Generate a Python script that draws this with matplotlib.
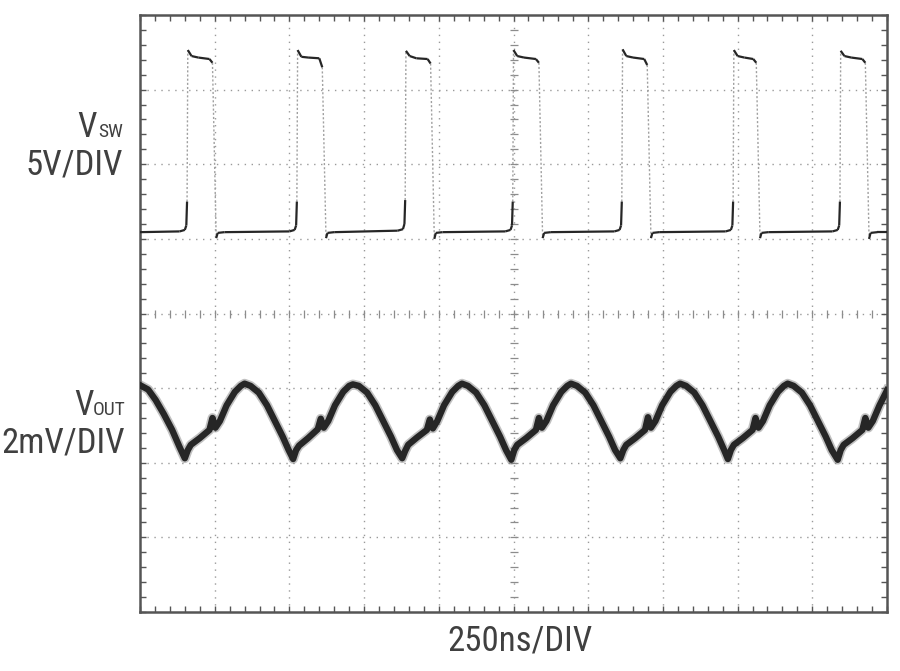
import numpy as np
import matplotlib
matplotlib.use("Agg")
import matplotlib.pyplot as plt
from matplotlib import font_manager
from matplotlib.collections import LineCollection

# screen is 10 x 8 divisions, time 250ns/div
# values below are in divisions, read off the scope shot

# switch node (5V/div)
vsw_x = [0.00,
         0.53, 0.60, 0.62, 0.63, 0.64, 0.69, 0.78, 0.93, 0.97, 1.02, 1.04, 1.13,
         2.00, 2.07, 2.09, 2.10, 2.11, 2.16, 2.25, 2.40, 2.44, 2.49, 2.51, 2.60,
         3.45, 3.52, 3.54, 3.55, 3.56, 3.61, 3.70, 3.85, 3.89, 3.94, 3.96, 4.05,
         4.89, 4.96, 4.98, 4.99, 5.00, 5.05, 5.14, 5.30, 5.34, 5.39, 5.41, 5.50,
         6.35, 6.42, 6.44, 6.45, 6.46, 6.51, 6.60, 6.75, 6.79, 6.84, 6.86, 6.95,
         7.84, 7.91, 7.93, 7.94, 7.95, 8.00, 8.09, 8.21, 8.25, 8.30, 8.32, 8.41,
         9.27, 9.34, 9.36, 9.37, 9.38, 9.43, 9.52, 9.67, 9.71, 9.76, 9.78, 9.87,
         10.00]
vsw_y = [5.09,
         5.10, 5.12, 5.18, 5.50, 7.53, 7.45, 7.43, 7.41, 7.36, 5.01, 5.08, 5.09,
         5.10, 5.12, 5.18, 5.50, 7.53, 7.44, 7.43, 7.42, 7.30, 5.01, 5.08, 5.09,
         5.11, 5.13, 5.20, 5.52, 7.52, 7.45, 7.42, 7.41, 7.35, 5.00, 5.08, 5.09,
         5.10, 5.12, 5.18, 5.50, 7.53, 7.45, 7.43, 7.41, 7.36, 5.01, 5.08, 5.09,
         5.10, 5.12, 5.18, 5.50, 7.54, 7.45, 7.43, 7.41, 7.33, 5.01, 5.08, 5.09,
         5.10, 5.12, 5.18, 5.50, 7.53, 7.45, 7.43, 7.41, 7.36, 5.01, 5.08, 5.09,
         5.10, 5.12, 5.18, 5.50, 7.52, 7.45, 7.43, 7.41, 7.36, 5.00, 5.08, 5.09,
         5.09]

# output ripple (2mV/div)
vout_x = [0.00, 0.11, 0.21, 0.32, 0.43, 0.53,
          0.60, 0.64, 0.68, 0.80, 0.93, 0.97, 1.01, 1.07, 1.16, 1.27, 1.35, 1.40, 1.48, 1.59, 1.70, 1.80, 1.91, 1.99,
          2.05, 2.09, 2.13, 2.25, 2.38, 2.42, 2.46, 2.52, 2.61, 2.72, 2.80, 2.85, 2.93, 3.04, 3.15, 3.25, 3.36, 3.44,
          3.51, 3.55, 3.59, 3.71, 3.84, 3.88, 3.92, 3.98, 4.07, 4.18, 4.26, 4.31, 4.39, 4.50, 4.61, 4.71, 4.82, 4.90,
          4.97, 5.01, 5.05, 5.17, 5.30, 5.34, 5.38, 5.44, 5.53, 5.64, 5.72, 5.77, 5.85, 5.96, 6.07, 6.17, 6.28, 6.36,
          6.43, 6.47, 6.51, 6.63, 6.76, 6.80, 6.84, 6.90, 6.99, 7.10, 7.18, 7.23, 7.31, 7.42, 7.53, 7.63, 7.74, 7.82,
          7.87, 7.91, 7.95, 8.07, 8.20, 8.24, 8.28, 8.34, 8.43, 8.54, 8.62, 8.67, 8.75, 8.86, 8.97, 9.07, 9.18, 9.26,
          9.34, 9.38, 9.42, 9.54, 9.67, 9.71, 9.75, 9.81, 9.90, 10.00]
vout_y = [3.04, 2.98, 2.84, 2.65, 2.44, 2.21,
          2.06, 2.17, 2.24, 2.33, 2.44, 2.60, 2.47, 2.56, 2.77, 2.95, 3.03, 3.06, 3.03, 2.94, 2.77, 2.57, 2.35, 2.17,
          2.05, 2.17, 2.23, 2.33, 2.45, 2.59, 2.47, 2.56, 2.77, 2.95, 3.03, 3.05, 3.03, 2.94, 2.77, 2.57, 2.35, 2.17,
          2.06, 2.16, 2.24, 2.34, 2.44, 2.58, 2.46, 2.56, 2.77, 2.95, 3.03, 3.06, 3.03, 2.94, 2.77, 2.57, 2.35, 2.17,
          2.04, 2.17, 2.24, 2.33, 2.44, 2.60, 2.47, 2.56, 2.77, 2.95, 3.03, 3.06, 3.03, 2.94, 2.77, 2.57, 2.35, 2.17,
          2.06, 2.17, 2.24, 2.33, 2.44, 2.61, 2.47, 2.56, 2.77, 2.95, 3.03, 3.06, 3.03, 2.94, 2.77, 2.57, 2.35, 2.17,
          2.05, 2.17, 2.24, 2.33, 2.44, 2.60, 2.47, 2.56, 2.77, 2.95, 3.03, 3.06, 3.03, 2.94, 2.77, 2.57, 2.35, 2.17,
          2.04, 2.17, 2.24, 2.33, 2.44, 2.60, 2.47, 2.56, 2.77, 2.97]

ch1_name, ch1_sub, ch1_scale = "V", "SW", "5V/DIV"
ch2_name, ch2_sub, ch2_scale = "V", "OUT", "2mV/DIV"
time_scale = "250ns/DIV"

# pick a narrow face if one is there
names = {f.name for f in font_manager.fontManager.ttflist}
FONT = None
for cand in ["Liberation Sans Narrow", "Roboto Condensed", "DejaVu Sans Condensed",
             "Open Sans Condensed", "Noto Sans Condensed"]:
    if cand in names:
        FONT = cand
        break
STRETCH = "normal"
SIZE = 25
if FONT is None:
    condensed = [f for f in font_manager.fontManager.ttflist
                 if f.name in ("DejaVu Sans", "Noto Sans", "Roboto", "Open Sans")
                 and f.stretch in ("condensed", "semi-condensed", "extra-condensed")]
    if condensed:
        FONT = condensed[0].name
        STRETCH = condensed[0].stretch
    else:
        FONT = "Liberation Sans"
        SIZE = 21

TXT = "#404040"
TRACE = "#262626"

fig = plt.figure(figsize=(9, 6.71), dpi=100)
ax = fig.add_axes([140 / 900, 59 / 671, 747 / 900, 597 / 671])
ax.set_xlim(0, 10)
ax.set_ylim(0, 8)

# graticule
for gx in range(1, 10):
    ax.axvline(gx, color="#9a9a9a", lw=1.0, linestyle=(0, (1, 4)), zorder=1)
for gy in range(1, 8):
    ax.axhline(gy, color="#9a9a9a", lw=1.0, linestyle=(0, (1, 4)), zorder=1)
sub = np.arange(0.2, 10, 0.2)
ax.plot(sub, np.full_like(sub, 4.0), linestyle="none", marker="|", ms=6,
        mew=0.9, color="#8c8c8c", zorder=1)
sub_y = np.arange(0.2, 8, 0.2)
ax.plot(np.full_like(sub_y, 5.0), sub_y, linestyle="none", marker="_", ms=6,
        mew=0.9, color="#8c8c8c", zorder=1)

ax.set_xticks(range(0, 11))
ax.set_yticks(range(0, 9))
ax.set_xticks(np.arange(0, 10.01, 0.2), minor=True)
ax.set_yticks(np.arange(0, 8.01, 0.2), minor=True)
ax.tick_params(which="both", direction="in", length=4, width=1.0, color="#555555",
               top=True, right=True, labelbottom=False, labelleft=False)
for s in ax.spines.values():
    s.set_color("#555555")
    s.set_linewidth(1.8)

# switch node: flat parts dark, fast edges faint
pts = np.column_stack([vsw_x, vsw_y])
segs = np.stack([pts[:-1], pts[1:]], axis=1)
dy = np.abs(np.diff(vsw_y))
edge = dy > 1.0
ax.add_collection(LineCollection(segs[edge], colors="#a0a0a0", linewidths=1.0,
                                 linestyles=(0, (1.5, 1.5)), zorder=2))
ax.add_collection(LineCollection(segs[~edge], colors=TRACE, linewidths=1.6, zorder=3))

# output ripple: fuzzy wide band
ax.plot(vout_x, vout_y, color="#777777", lw=7.0, alpha=0.45, solid_joinstyle="round", zorder=3)
ax.plot(vout_x, vout_y, color=TRACE, lw=4.6, solid_joinstyle="round", zorder=4)

# channel labels
kw = dict(transform=ax.transData, clip_on=False, color=TXT, family=FONT,
          fontstretch=STRETCH, va="baseline")
sub_size = SIZE * 0.56
ax.text(-0.58, 6.37, ch1_name, fontsize=SIZE, ha="right", **kw)
ax.text(-0.23, 6.37, ch1_sub, fontsize=sub_size, ha="right", **kw)
ax.text(-0.23, 5.86, ch1_scale, fontsize=SIZE, ha="right", **kw)
ax.text(-0.62, 2.64, ch2_name, fontsize=SIZE, ha="right", **kw)
ax.text(-0.20, 2.64, ch2_sub, fontsize=sub_size, ha="right", **kw)
ax.text(-0.20, 2.14, ch2_scale, fontsize=SIZE, ha="right", **kw)
ax.text(5.09, -0.52, time_scale, fontsize=SIZE, ha="center", **kw)

fig.savefig("out.png", dpi=100)
